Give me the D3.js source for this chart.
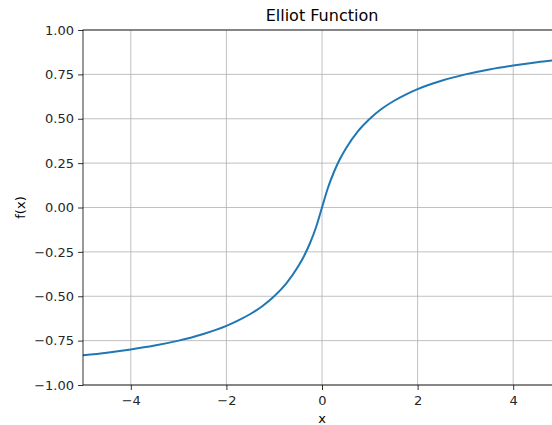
<!DOCTYPE html>
<html>
<head>
<meta charset="utf-8">
<script src="https://cdn.jsdelivr.net/npm/d3@7"></script>
<style>
  body { margin: 0; background: #fff; }
  svg { font-family: "DejaVu Sans", sans-serif; }
</style>
</head>
<body>
<div id="chart"></div>
<script>
// values
const xs = [-5, -4.5, -4, -3.5, -3, -2.5, -2, -1.75, -1.5, -1.25, -1, -0.75, -0.5, -0.375, -0.25, -0.125, 0,
            0.125, 0.25, 0.375, 0.5, 0.75, 1, 1.25, 1.5, 1.75, 2, 2.5, 3, 3.5, 4, 4.5, 5];
const ys = [-0.833, -0.818, -0.8, -0.778, -0.75, -0.714, -0.667, -0.636, -0.6, -0.556, -0.5, -0.429, -0.333, -0.273, -0.2, -0.111, 0,
            0.111, 0.2, 0.273, 0.333, 0.429, 0.5, 0.556, 0.6, 0.636, 0.667, 0.714, 0.75, 0.778, 0.8, 0.818, 0.833];
const xTicks = [-4, -2, 0, 2, 4];
const yTicks = [-1, -0.75, -0.5, -0.25, 0, 0.25, 0.5, 0.75, 1];

const width = 552, height = 425;
const plotLeft = 83, plotRight = 561, plotTop = 30, plotBottom = 385;

const svg = d3.select("#chart").append("svg")
    .attr("width", width)
    .attr("height", height);

const x = d3.scaleLinear().domain([-5, 5]).range([plotLeft, plotRight]);
const y = d3.scaleLinear().domain([-1, 1]).range([plotBottom, plotTop]);

// grid
svg.append("g").selectAll("line").data(xTicks).enter().append("line")
    .attr("x1", d => x(d)).attr("x2", d => x(d))
    .attr("y1", plotTop).attr("y2", plotBottom)
    .attr("stroke", "#b0b0b0").attr("stroke-width", 0.8);
svg.append("g").selectAll("line").data(yTicks).enter().append("line")
    .attr("x1", plotLeft).attr("x2", plotRight)
    .attr("y1", d => y(d)).attr("y2", d => y(d))
    .attr("stroke", "#b0b0b0").attr("stroke-width", 0.8);

// curve
const pts = xs.map((v, i) => [v, ys[i]]);
svg.append("path")
    .datum(pts)
    .attr("fill", "none")
    .attr("stroke", "#1f77b4")
    .attr("stroke-width", 2)
    .attr("d", d3.line().x(d => x(d[0])).y(d => y(d[1])).curve(d3.curveMonotoneX));

// axes
const fmtX = d => (d < 0 ? "\u2212" + Math.abs(d) : "" + d);
const fmtY = d => (d < 0 ? "\u2212" : "") + Math.abs(d).toFixed(2);

const xAxis = svg.append("g")
    .attr("transform", `translate(0,${plotBottom})`)
    .call(d3.axisBottom(x).tickValues(xTicks).tickFormat(fmtX).tickSize(5).tickPadding(6));
const yAxis = svg.append("g")
    .attr("transform", `translate(${plotLeft},0)`)
    .call(d3.axisLeft(y).tickValues(yTicks).tickFormat(fmtY).tickSize(5).tickPadding(4));

[xAxis, yAxis].forEach(g => {
    g.select(".domain").remove();
    g.selectAll("line").attr("stroke", "#000").attr("stroke-width", 0.8);
    g.selectAll("text").attr("fill", "#262626").style("font-size", "13px")
        .style("font-family", "DejaVu Sans, sans-serif");
});

// spines
svg.append("rect")
    .attr("x", plotLeft).attr("y", plotTop)
    .attr("width", plotRight - plotLeft).attr("height", plotBottom - plotTop)
    .attr("fill", "none").attr("stroke", "#000").attr("stroke-width", 0.8);

// labels
svg.append("text")
    .attr("x", x(0)).attr("y", 423)
    .attr("text-anchor", "middle")
    .style("font-size", "13px")
    .text("x");
svg.append("text")
    .attr("transform", `translate(25,${y(0)}) rotate(-90)`)
    .attr("text-anchor", "middle")
    .style("font-size", "13px")
    .text("f(x)");
svg.append("text")
    .attr("x", x(0)).attr("y", 21)
    .attr("text-anchor", "middle")
    .style("font-size", "16px")
    .text("Elliot Function");
</script>
</body>
</html>
